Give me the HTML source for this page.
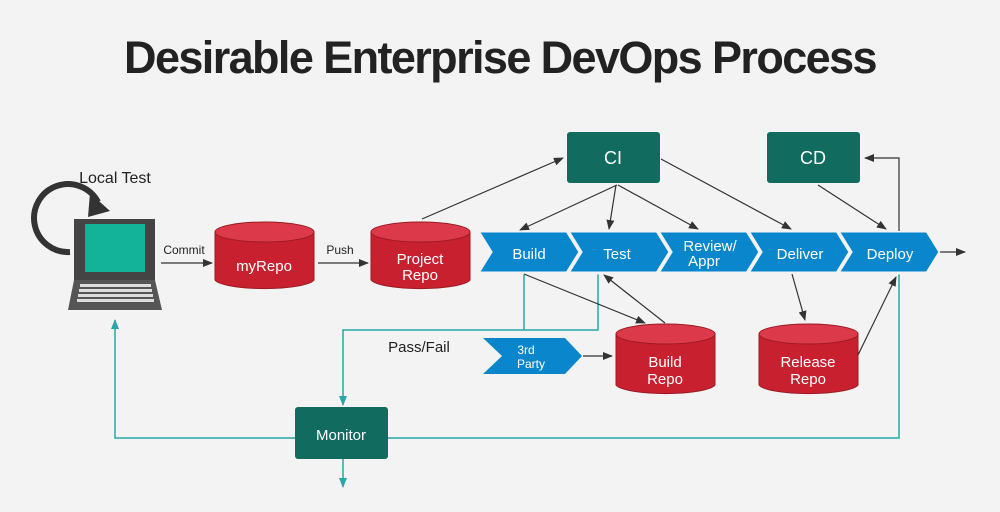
<!DOCTYPE html>
<html><head><meta charset="utf-8"><style>
body{margin:0;background:#f3f3f3;}
svg{display:block;font-family:"Liberation Sans",sans-serif;}
</style></head><body>
<svg width="1000" height="512" viewBox="0 0 1000 512" xmlns="http://www.w3.org/2000/svg">
<defs>
<marker id="a" markerWidth="10" markerHeight="8" refX="9" refY="4" orient="auto" markerUnits="userSpaceOnUse"><path d="M0,0 L10,4 L0,8 z" fill="#333"/></marker>
<marker id="t" markerWidth="10" markerHeight="10" refX="9" refY="4" orient="auto" markerUnits="userSpaceOnUse"><path d="M0,0 L10,4 L0,8 z" fill="#2aa6a8"/></marker>
</defs>
<rect width="1000" height="512" fill="#f3f3f3"/>
<text x="500" y="73" text-anchor="middle" font-size="45" font-weight="bold" fill="#222" letter-spacing="-1.6">Desirable Enterprise DevOps Process</text>

<g stroke="#2aa6a8" stroke-width="1.5" fill="none">
<path d="M295,438 L115,438 L115,320" marker-end="url(#t)"/>
<path d="M388,438 L899,438 L899,273"/>
<path d="M343,459 L343,487" marker-end="url(#t)"/>
<path d="M524,273 L524,330 M598,273 L598,330 L343,330 L343,405" marker-end="url(#t)"/>
</g>

<path d="M70,252 A34,34 0 1 1 98,202" stroke="#333" stroke-width="6" fill="none"/>
<path d="M90,193 L110,211 L88,217 z" fill="#333"/>
<rect x="74" y="219" width="81" height="61" fill="#444"/>
<rect x="85" y="224" width="60" height="48" fill="#13b39a"/>
<path d="M74,280 L155,280 L162,310 L68,310 z" fill="#555"/>
<g fill="#ddd">
<rect x="80" y="284" width="71" height="3"/>
<rect x="79" y="289" width="73" height="3"/>
<rect x="78" y="294" width="75" height="3"/>
<rect x="77" y="299" width="77" height="3"/>
</g>
<text x="115" y="183" text-anchor="middle" font-size="16" fill="#222">Local Test</text>

<text x="184" y="254" text-anchor="middle" font-size="12" fill="#222">Commit</text>
<line x1="161" y1="263" x2="212" y2="263" stroke="#333" stroke-width="1.2" marker-end="url(#a)"/>
<text x="340" y="254" text-anchor="middle" font-size="12" fill="#222">Push</text>
<line x1="318" y1="263" x2="368" y2="263" stroke="#333" stroke-width="1.2" marker-end="url(#a)"/>

<g stroke="#9b1a24" stroke-width="1">
<path d="M215,232 L215,280 A50,10 0 0 0 314,280 L314,232 z" fill="#c8202f"/>
<ellipse cx="264.5" cy="232" rx="49.5" ry="10" fill="#dc3a4a"/>
<path d="M371,232 L371,280 A50,10 0 0 0 470,280 L470,232 z" fill="#c8202f"/>
<ellipse cx="420.5" cy="232" rx="49.5" ry="10" fill="#dc3a4a"/>
<path d="M616,334 L616,385 A50,10 0 0 0 715,385 L715,334 z" fill="#c8202f"/>
<ellipse cx="665.5" cy="334" rx="49.5" ry="10" fill="#dc3a4a"/>
<path d="M759,334 L759,385 A50,10 0 0 0 858,385 L858,334 z" fill="#c8202f"/>
<ellipse cx="808.5" cy="334" rx="49.5" ry="10" fill="#dc3a4a"/>
</g>
<g fill="#fff" font-size="15" text-anchor="middle">
<text x="264" y="271">myRepo</text>
<text x="420" y="264">Project</text><text x="420" y="280">Repo</text>
<text x="665" y="367">Build</text><text x="665" y="384">Repo</text>
<text x="808" y="367">Release</text><text x="808" y="384">Repo</text>
</g>

<g fill="#0a86cc" stroke="#f3f3f3" stroke-width="3" stroke-linejoin="miter">
<path d="M478,231 L567,231 L580,252 L567,273 L478,273 L491,252 z"/>
<path d="M568,231 L657,231 L670,252 L657,273 L568,273 L581,252 z"/>
<path d="M658,231 L747,231 L760,252 L747,273 L658,273 L671,252 z"/>
<path d="M748,231 L837,231 L850,252 L837,273 L748,273 L761,252 z"/>
<path d="M838,231 L927,231 L940,252 L927,273 L838,273 L851,252 z"/>
</g>
<path d="M483,338 L565,338 L582,356 L565,374 L483,374 L502,356 z" fill="#0a86cc"/>
<g fill="#fff" font-size="15" text-anchor="middle">
<text x="529" y="259">Build</text>
<text x="617" y="259">Test</text>
<text x="710" y="251">Review/</text><text x="704" y="266">Appr</text>
<text x="800" y="259">Deliver</text>
<text x="890" y="259">Deploy</text>
<text x="526" y="354" font-size="12">3rd</text><text x="531" y="368" font-size="12">Party</text>
</g>
<text x="419" y="352" text-anchor="middle" font-size="15" fill="#222">Pass/Fail</text>

<rect x="567" y="132" width="93" height="51" rx="3" fill="#116b5f"/>
<rect x="767" y="132" width="93" height="51" rx="3" fill="#116b5f"/>
<rect x="295" y="407" width="93" height="52" rx="3" fill="#116b5f"/>
<g fill="#fff" text-anchor="middle">
<text x="613" y="164" font-size="18">CI</text>
<text x="813" y="164" font-size="18">CD</text>
<text x="341" y="440" font-size="15">Monitor</text>
</g>

<g stroke="#333" stroke-width="1.2" fill="none" marker-end="url(#a)">
<line x1="422" y1="219" x2="563" y2="158"/>
<line x1="617" y1="185" x2="520" y2="230"/>
<line x1="616" y1="185" x2="609" y2="229"/>
<line x1="618" y1="185" x2="698" y2="229"/>
<line x1="661" y1="159" x2="791" y2="229"/>
<line x1="818" y1="185" x2="886" y2="229"/>
<path d="M899,231 L899,158 L865,158"/>
<line x1="940" y1="252" x2="965" y2="252"/>
<line x1="524" y1="274" x2="645" y2="323"/>
<line x1="665" y1="323" x2="604" y2="275"/>
<line x1="792" y1="274" x2="805" y2="320"/>
<line x1="858" y1="355" x2="896" y2="277"/>
<line x1="583" y1="356" x2="612" y2="356"/>
</g>
</svg>
</body></html>
